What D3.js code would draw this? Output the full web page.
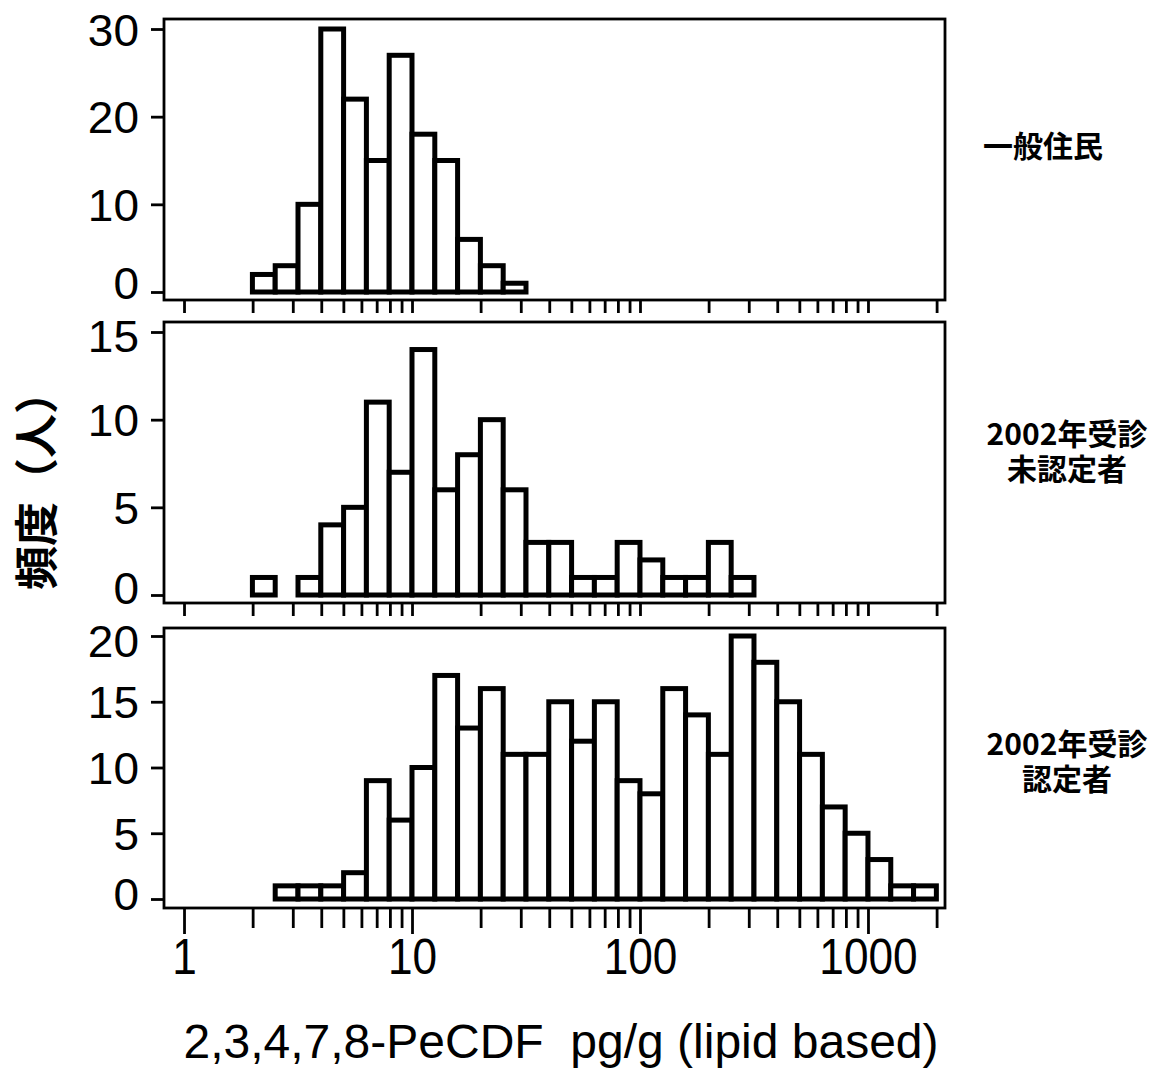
<!DOCTYPE html>
<html>
<head>
<meta charset="utf-8">
<script src="https://cdn.jsdelivr.net/npm/d3@7"></script>
<style>
  html, body { margin: 0; padding: 0; background: #fff; }
  svg { display: block; }
</style>
</head>
<body>
<div id="chart"></div>
<script>
// ---------------- DATA ----------------
// Histogram bins are 0.1 wide in log10(pg/g); each series starts at a log10 lower edge.
const binWidthLog = 0.1;

const panelNames = ["一般住民", "2002年受診\n未認定者", "2002年受診\n認定者"];

const generalStartLog = 0.3;
const generalCounts = [2, 3, 10, 30, 22, 15, 27, 18, 15, 6, 3, 1];

const uncertifiedStartLog = 0.3;
const uncertifiedCounts = [1, 0, 1, 4, 5, 11, 7, 14, 6, 8, 10, 6, 3, 3, 1, 1, 3, 2, 1, 1, 3, 1];

const certifiedStartLog = 0.4;
const certifiedCounts = [1, 1, 1, 2, 9, 6, 10, 17, 13, 16, 11, 11, 15, 12, 15, 9, 8, 16, 14, 11, 20, 18, 15, 11, 7, 5, 3, 1, 1];

const generalYTicks = [0, 10, 20, 30];
const uncertifiedYTicks = [0, 5, 10, 15];
const certifiedYTicks = [0, 5, 10, 15, 20];

const xTickValues = [1,2,3,4,5,6,7,8,9,10,20,30,40,50,60,70,80,90,100,200,300,400,500,600,700,800,900,1000,2000];
const xTickLabels = [1, 10, 100, 1000];
const xDomain = [0.817, 2177];

const xTitle = "2,3,4,7,8-PeCDF  pg/g (lipid based)";
const yTitle = "頻度（人）";

// ---------------- LAYOUT ----------------
const W = 1155, H = 1070;
const frameLeft = 164, frameRight = 945;
const NUM_FONT = "'Liberation Sans', Arial, Helvetica, sans-serif";
const CJK_FONT = "'Noto Sans CJK JP', 'Noto Sans CJK SC', sans-serif";

const panels = [
  { counts: generalCounts, start: generalStartLog, ticks: generalYTicks,
    top: 19, bottom: 300, yRange: [292, 29], yMax: 30,
    labelOffsets: {0: -10}, nameY: 146, bottomAxis: false },
  { counts: uncertifiedCounts, start: uncertifiedStartLog, ticks: uncertifiedYTicks,
    top: 322, bottom: 603, yRange: [595, 332], yMax: 15,
    labelOffsets: {0: -8, 15: 3}, nameY: 434, bottomAxis: false },
  { counts: certifiedCounts, start: certifiedStartLog, ticks: certifiedYTicks,
    top: 628, bottom: 908, yRange: [899, 636], yMax: 20,
    labelOffsets: {0: -6, 20: 4}, nameY: 744, bottomAxis: true }
];

const svg = d3.select("#chart").append("svg")
  .attr("width", W).attr("height", H)
  .attr("viewBox", `0 0 ${W} ${H}`);

svg.append("rect").attr("width", W).attr("height", H).attr("fill", "#fff");

const x = d3.scaleLog().domain(xDomain).range([frameLeft, frameRight]);

panels.forEach((p, pi) => {
  const y = d3.scaleLinear().domain([0, p.yMax]).range(p.yRange);
  const g = svg.append("g");

  // bars
  const bins = p.counts.map((c, i) => ({
    x0: Math.pow(10, p.start + i * binWidthLog),
    x1: Math.pow(10, p.start + (i + 1) * binWidthLog),
    count: c
  })).filter(d => d.count > 0);

  g.selectAll("rect.bar").data(bins).join("rect")
    .attr("class", "bar")
    .attr("x", d => x(d.x0))
    .attr("width", d => x(d.x1) - x(d.x0))
    .attr("y", d => y(d.count))
    .attr("height", d => y(0) - y(d.count))
    .attr("fill", "#fff")
    .attr("stroke", "#000")
    .attr("stroke-width", 5)
    .attr("stroke-linejoin", "miter");

  // frame
  g.append("rect")
    .attr("x", frameLeft).attr("y", p.top)
    .attr("width", frameRight - frameLeft).attr("height", p.bottom - p.top)
    .attr("fill", "none").attr("stroke", "#000").attr("stroke-width", 2.8);

  // y axis
  const yAxis = g.append("g")
    .attr("transform", `translate(${frameLeft},0)`)
    .call(d3.axisLeft(y).tickValues(p.ticks).tickSize(13).tickFormat(d3.format("d")));
  yAxis.select(".domain").remove();
  yAxis.selectAll(".tick line").attr("stroke", "#000").attr("stroke-width", 2.8);
  yAxis.selectAll(".tick text")
    .attr("x", null).attr("y", null).attr("dy", null)
    .attr("transform", d => `translate(-25,${16 + (p.labelOffsets[d] || 0)}) scale(1,0.96)`)
    .attr("text-anchor", "end")
    .attr("fill", "#000")
    .style("font-family", NUM_FONT)
    .style("font-size", "46px");

  // x axis
  const xAxis = g.append("g")
    .attr("transform", `translate(0,${p.bottom})`)
    .call(d3.axisBottom(x).tickValues(xTickValues)
      .tickSize(p.bottomAxis ? 20 : 13)
      .tickFormat(d => (p.bottomAxis && xTickLabels.includes(d)) ? d3.format("d")(d) : ""));
  xAxis.select(".domain").remove();
  xAxis.selectAll(".tick line").attr("stroke", "#000").attr("stroke-width", 2.8)
    .attr("y2", d => (p.bottomAxis && xTickLabels.includes(d)) ? 26 : (p.bottomAxis ? 20 : 13));
  if (p.bottomAxis) {
    xAxis.selectAll(".tick text")
      .attr("y", null).attr("dy", null)
      .attr("transform", "translate(0,66) scale(0.92,1.04)")
      .attr("text-anchor", "middle")
      .attr("fill", "#000")
      .style("font-family", NUM_FONT)
      .style("font-size", "48px");
  } else {
    xAxis.selectAll(".tick text").remove();
  }

  // panel name on the right (one text element, one tspan per line)
  const lines = panelNames[pi].split("\n");
  const nameX = lines.length === 1 ? 1043 : 1067;
  const t = svg.append("text")
    .attr("x", nameX).attr("y", p.nameY)
    .attr("dy", "0.36em")
    .attr("text-anchor", "middle")
    .style("font-family", CJK_FONT)
    .style("font-size", "30px")
    .style("font-weight", 700)
    .attr("fill", "#000");
  lines.forEach((ln, li) => {
    t.append("tspan")
      .attr("x", nameX)
      .attr("dy", li === 0 ? "0.36em" : 35)
      .text(ln);
  });
});

// y title
svg.append("text")
  .attr("transform", "translate(37,480) rotate(-90)")
  .attr("text-anchor", "middle")
  .attr("dy", "0.36em")
  .style("font-family", CJK_FONT)
  .style("font-size", "44px")
  .style("font-weight", 700)
  .attr("fill", "#000")
  .text(yTitle);

// x title
svg.append("text")
  .attr("x", 561).attr("y", 1058)
  .attr("text-anchor", "middle")
  .style("font-family", NUM_FONT)
  .style("font-size", "48px")
  .style("white-space", "pre")
  .attr("xml:space", "preserve")
  .attr("fill", "#000")
  .text(xTitle);
</script>
</body>
</html>
